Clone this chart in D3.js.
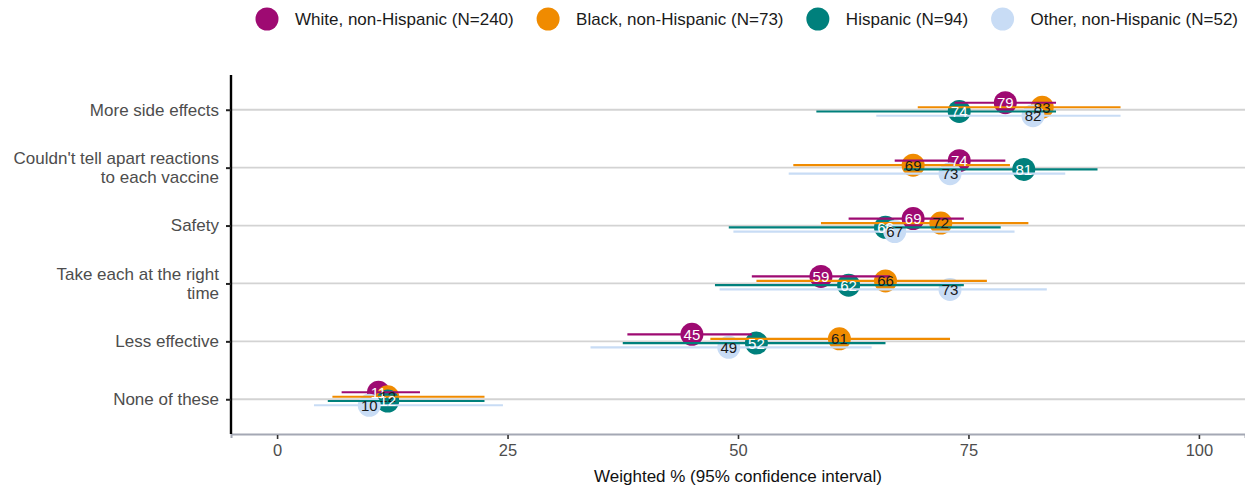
<!DOCTYPE html>
<html>
<head>
<meta charset="utf-8">
<script src="https://cdn.jsdelivr.net/npm/d3@7"></script>
<style>
  body { margin: 0; background: #fff; }
  text { font-family: "Liberation Sans", Arial, Helvetica, sans-serif; }
</style>
</head>
<body>
<svg id="chart" width="1245" height="491"></svg>
<script>
// Reasons, top to bottom
const categories = [
  "More side effects",
  "Couldn't tell apart reactions\nto each vaccine",
  "Safety",
  "Take each at the right\ntime",
  "Less effective",
  "None of these"
];

const groups = [
  "White, non-Hispanic (N=240)",
  "Black, non-Hispanic (N=73)",
  "Hispanic (N=94)",
  "Other, non-Hispanic (N=52)"
];
const groupColors = ["#9e0a72", "#f08b00", "#00807c", "#c8dcf5"];
const labelColors = ["#ffffff", "#1a1a1a", "#ffffff", "#1a1a1a"];

// Weighted % and 95% confidence limits, one entry per reason
const whiteEst  = [79, 74, 69, 59, 45, 11];
const whiteLow  = [73.5, 67, 62, 51.5, 38, 7];
const whiteHigh = [84.5, 79, 74.5, 66.5, 51.5, 15.5];

const blackEst  = [83, 69, 72, 66, 61, 12];
const blackLow  = [69.5, 56, 59, 52, 47, 6];
const blackHigh = [91.5, 79.5, 81.5, 77, 73, 22.5];

const hispEst   = [74, 81, 66, 62, 52, 12];
const hispLow   = [58.5, 68, 49, 47.5, 37.5, 5.5];
const hispHigh  = [84.5, 89, 78.5, 74.5, 66, 22.5];

const otherEst  = [82, 73, 67, 73, 49, 10];
const otherLow  = [65, 55.5, 49.5, 48, 34, 4];
const otherHigh = [91.5, 85.5, 80, 83.5, 64.5, 24.5];

const xTicks = [0, 25, 50, 75, 100];
const xTitle = "Weighted % (95% confidence interval)";

const seriesEst  = [whiteEst, blackEst, hispEst, otherEst];
const seriesLow  = [whiteLow, blackLow, hispLow, otherLow];
const seriesHigh = [whiteHigh, blackHigh, hispHigh, otherHigh];

const rows = [];
groups.forEach((g, gi) => {
  categories.forEach((c, ci) => {
    rows.push({ group: g, gi, cat: c, est: seriesEst[gi][ci], low: seriesLow[gi][ci], high: seriesHigh[gi][ci] });
  });
});

const svg = d3.select("#chart");
const panel = { left: 231, right: 1245, top: 75, bottom: 434 };

const x = d3.scaleLinear().domain([-5, 105]).range([panel.left, panel.right]);
const y = d3.scalePoint().domain(categories).range([panel.top, panel.bottom]).padding(0.6);
// vertical dodge within each reason
const dodge = d3.scaleOrdinal().domain(groups).range([-7, -2.5, 1.75, 6]);
const color = d3.scaleOrdinal().domain(groups).range(groupColors);
const textColor = d3.scaleOrdinal().domain(groups).range(labelColors);

// horizontal grid lines
svg.append("g").selectAll("line").data(categories).join("line")
  .attr("x1", panel.left).attr("x2", panel.right)
  .attr("y1", d => y(d)).attr("y2", d => y(d))
  .attr("stroke", "#d3d3d3").attr("stroke-width", 1.8);

// bottom axis
const xAxis = d3.axisBottom(x).tickValues(xTicks).tickSize(4).tickPadding(6);
const gx = svg.append("g").attr("transform", `translate(0,${panel.bottom})`).call(xAxis);
gx.select(".domain").attr("stroke", "#a4a8b4").attr("stroke-width", 2);
gx.selectAll(".tick line").attr("stroke", "#333").attr("stroke-width", 1.6).attr("transform", "translate(0,1)");
gx.selectAll(".tick text").attr("font-size", 16.5).attr("fill", "#4d4d4d").attr("font-family", null);

svg.append("text")
  .attr("x", (panel.left + panel.right) / 2).attr("y", 482)
  .attr("text-anchor", "middle").attr("font-size", 17).attr("fill", "#111")
  .text(xTitle);

// left axis
const yAxis = d3.axisLeft(y).tickSize(5).tickFormat("");
const gy = svg.append("g").attr("transform", `translate(${panel.left},0)`).call(yAxis);
gy.select(".domain").attr("stroke", "#000").attr("stroke-width", 2.4).attr("d", `M0,${panel.top}V${panel.bottom}`);
gy.selectAll(".tick line").attr("stroke", "#222").attr("stroke-width", 2);

// category labels (may wrap onto two lines)
const catLabels = svg.append("g").selectAll("text").data(categories).join("text")
  .attr("x", panel.left - 12)
  .attr("text-anchor", "end").attr("font-size", 17).attr("fill", "#4d4d4d");
catLabels.each(function(d) {
  const lines = d.split("\n");
  const t = d3.select(this);
  const lh = 18.5;
  const start = y(d) - (lines.length - 1) * lh / 2;
  lines.forEach((ln, i) => {
    t.append("tspan").attr("x", panel.left - 12).attr("y", start + i * lh).attr("dy", "0.35em").text(ln);
  });
});

// points
svg.append("g").selectAll("circle").data(rows).join("circle")
  .attr("cx", d => x(d.est)).attr("cy", d => y(d.cat) + dodge(d.group))
  .attr("r", 11.5).attr("fill", d => color(d.group));

// confidence intervals
svg.append("g").selectAll("line").data(rows).join("line")
  .attr("x1", d => x(d.low)).attr("x2", d => x(d.high))
  .attr("y1", d => y(d.cat) + dodge(d.group)).attr("y2", d => y(d.cat) + dodge(d.group))
  .attr("stroke", d => color(d.group)).attr("stroke-width", 2.2);

// value labels
svg.append("g").selectAll("text").data(rows).join("text")
  .attr("x", d => x(d.est)).attr("y", d => y(d.cat) + dodge(d.group))
  .attr("dy", "0.36em").attr("text-anchor", "middle")
  .attr("font-size", 15).attr("fill", d => textColor(d.group))
  .text(d => d3.format("d")(d.est));

// legend across the top
const legend = svg.append("g");
const legendY = 19, keyToText = 28, firstKey = 267, lastEnd = 1238;
const items = legend.selectAll("g").data(groups).join("g");
items.append("circle").attr("r", 11.5).attr("fill", d => color(d));
items.append("text").attr("x", keyToText).attr("dy", "0.35em")
  .attr("font-size", 17).attr("fill", "#1a1a1a").text(d => d);
const widths = [];
items.select("text").each(function() { widths.push(this.getComputedTextLength()); });
const gap = (lastEnd - firstKey - groups.length * keyToText - d3.sum(widths)) / (groups.length - 1);
let cursor = firstKey;
items.each(function(d, i) {
  d3.select(this).attr("transform", `translate(${cursor},${legendY})`);
  cursor += keyToText + widths[i] + gap;
});
</script>
</body>
</html>
